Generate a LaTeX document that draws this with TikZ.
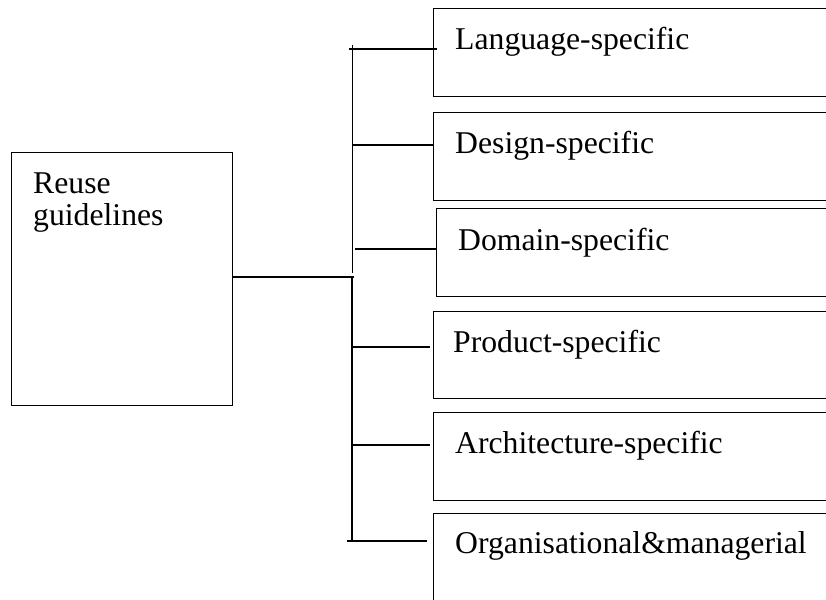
\documentclass[tikz,border=0pt]{standalone}
\usepackage{fontspec}
\setmainfont{Liberation Serif}
\begin{document}
\begin{tikzpicture}[x=1pt,y=-1pt,
  box/.style={draw,line width=1pt,rectangle,inner sep=0pt,anchor=north west},
  branchbox/.style={box,minimum width=420pt,minimum height=88pt},
  lbl/.style={anchor=base west,inner sep=0pt,font=\fontsize{31.7}{34}\selectfont},
  wire/.style={line width=1.5pt}]
\useasboundingbox (0,0) rectangle (826,599);
\clip (0,0) rectangle (826,599);

% root box
\node[box,minimum width=221pt,minimum height=253pt] (root) at (11,152) {};
\node[lbl] (rootA) at (33,193) {Reuse};
\node[lbl] (rootB) at (33,225) {guidelines};

% category boxes (running off the right edge)
\node[branchbox] (b1) at (433,8) {};
\node[branchbox] (b2) at (433,112) {};
\node[branchbox] (b3) at (436,208) {};
\node[branchbox,minimum height=87pt] (b4) at (433,311) {};
\node[branchbox] (b5) at (433,412) {};
\node[branchbox,minimum height=100pt] (b6) at (433,513) {};

\node[lbl] (t1) at ([xshift=22pt,yshift=-42pt]b1.north west) {Language-specific};
\node[lbl] (t2) at ([xshift=22pt,yshift=-41pt]b2.north west) {Design-specific};
\node[lbl] (t3) at ([xshift=22pt,yshift=-42pt]b3.north west) {Domain-specific};
\node[lbl] (t4) at ([xshift=20pt,yshift=-41pt]b4.north west) {Product-specific};
\node[lbl] (t5) at ([xshift=22pt,yshift=-41pt]b5.north west) {Architecture-specific};
\node[lbl] (t6) at ([xshift=22pt,yshift=-40pt]b6.north west) {Organisational\&managerial};

% trunk
\coordinate (j) at (354,277);
\coordinate (ttop) at (352.5,45);
\coordinate (tmid) at (352.5,273);
\coordinate (tlow) at (352,277);
\coordinate (tbot) at (352,541.5);
\draw[wire] (root.east |- j) -- (j);
\draw[wire] (ttop) -- (tmid);
\draw[wire] (tlow) -- (tbot);

% branches
\coordinate (k1) at (349,49);
\coordinate (k2) at (353,145);
\coordinate (k3) at (355,249);
\coordinate (k4) at (353,347);
\coordinate (k5) at (353,445);
\coordinate (k6) at (347,541);
\draw[wire] (k1) -- ([xshift=4pt]k1 -| b1.west);
\draw[wire] (k2) -- ([xshift=1pt]k2 -| b2.west);
\draw[wire] (k3) -- (k3 -| b3.west);
\draw[wire] (k4) -- ([xshift=-3pt]k4 -| b4.west);
\draw[wire] (k5) -- ([xshift=-3pt]k5 -| b5.west);
\draw[wire] (k6) -- ([xshift=-6pt]k6 -| b6.west);
\end{tikzpicture}
\end{document}
